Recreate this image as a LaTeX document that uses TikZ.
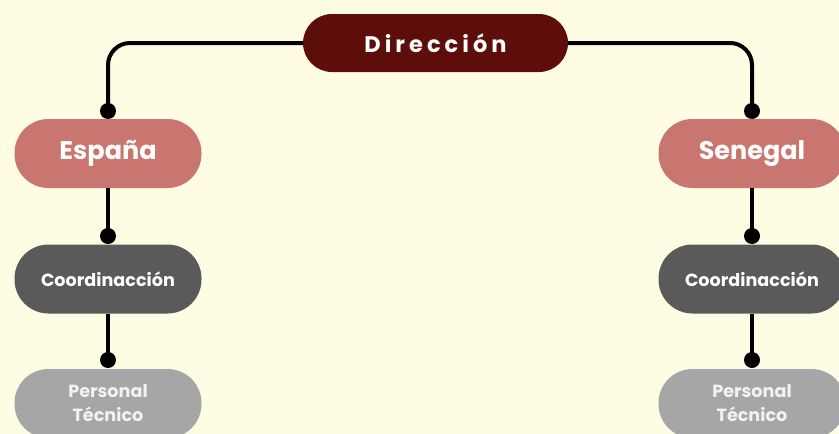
\documentclass[tikz,border=0pt]{standalone}
\usepackage{fontspec}
\setmainfont{Poppins}
\newfontfamily\spacedfont[LetterSpace=18]{Poppins}
\usetikzlibrary{positioning}
\definecolor{bgcol}{HTML}{FEFDE3}
\definecolor{dircol}{HTML}{5E0E0A}
\definecolor{countrycol}{HTML}{C97570}
\definecolor{coordcol}{HTML}{5A5A5A}
\definecolor{perscol}{HTML}{A6A6A6}
\tikzset{
  pill/.style={shape=rectangle, inner sep=0pt, text=white, align=center, font=\bfseries},
  dirbox/.style={pill, fill=dircol, minimum width=265pt, minimum height=58pt, rounded corners=29pt},
  countrybox/.style={pill, fill=countrycol, minimum width=187pt, minimum height=69pt, rounded corners=34pt, font=\fontsize{25.5}{28}\selectfont\bfseries},
  coordbox/.style={pill, fill=coordcol, minimum width=187pt, minimum height=69pt, rounded corners=34pt, font=\fontsize{17.6}{20}\selectfont\bfseries},
  persbox/.style={pill, fill=perscol, minimum width=187pt, minimum height=69pt, rounded corners=34pt, font=\fontsize{17.6}{24}\selectfont\bfseries, text=white!95!black},
  link/.style={line width=4pt, black},
  dot/.style={black}
}
\begin{document}
\begin{tikzpicture}[x=1pt,y=-1pt]
\fill[bgcol] (0,0) rectangle (839,434);
\useasboundingbox (0,0) rectangle (839,434);
\clip (0,0) rectangle (839,434);
% nodes
\node[dirbox] (dir) at (435.5,43) {\spacedfont\bfseries\fontsize{22.5}{24}\selectfont Dirección};
\node[countrybox] (es) at (108,153.5) {España};
\node[countrybox] (sn) at (752,153.5) {Senegal};
\node[coordbox] (esc) at (108,279) {Coordinacción};
\node[coordbox] (snc) at (752,279) {Coordinacción};
\node[persbox] (esp) at (108,403.5) {Personal\\Técnico};
\node[persbox] (snp) at (752,403.5) {Personal\\Técnico};
% dot coordinates
\coordinate (d1) at (108,111);
\coordinate (d2) at (752,111);
\coordinate (d3) at (108,236);
\coordinate (d4) at (752,236);
\coordinate (d5) at (108,360);
\coordinate (d6) at (752,360);
% connectors
\draw[link, rounded corners=22pt] (dir.west) -| (d1);
\draw[link, rounded corners=22pt] (dir.east) -| (d2);
\draw[link] (es.south) -- (d3);
\draw[link] (sn.south) -- (d4);
\draw[link] (esc.south) -- (d5);
\draw[link] (snc.south) -- (d6);
\foreach \d in {d1,d2,d3,d4,d5,d6} \fill[dot] (\d) circle (8pt);
\end{tikzpicture}
\end{document}
